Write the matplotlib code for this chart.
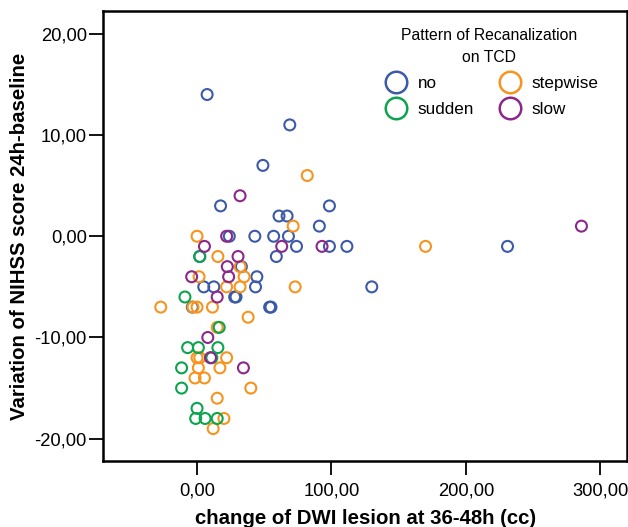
import matplotlib.pyplot as plt
from matplotlib.lines import Line2D

plt.rcParams['font.family'] = ['Liberation Sans', 'DejaVu Sans']

# change of DWI lesion (cc) vs. NIHSS change, split by recanalization pattern
no_x = [7.5, 69, 49, 17.5, 98.5, 61, 67, 91, 24, 43, 57, 68, 74, 98.5, 111.5,
        231, 59, 2, 33, 44.5, 5, 12.5, 43.5, 130, 28, 29, 54, 55, -3.5]
no_y = [14, 11, 7, 3, 3, 2, 2, 1, 0, 0, 0, 0, -1, -1, -1,
        -1, -2, -2, -3, -4, -5, -5, -5, -5, -6, -6, -7, -7, -7]

stepwise_x = [82, 71.5, 170, 0, 15.5, 1.5, 32, 35, 22, 32, 73, -27, -3, 0,
              11.5, 38, 15, 0, 2, 22, 1, 17, -1.5, 5.5, 40, 15, 20, 12]
stepwise_y = [6, 1, -1, 0, -2, -4, -3, -4, -5, -5, -5, -7, -7, -7,
              -7, -8, -9, -12, -12, -12, -13, -13, -14, -14, -15, -16, -18, -19]

sudden_x = [2, -9, 16.5, -7, 1, 15.5, 11, -11.5, -11.5, 0, -1, 6, 15]
sudden_y = [-2, -6, -9, -11, -11, -11, -12, -13, -15, -17, -18, -18, -18]

slow_x = [32, 286, 22, 5.5, 63, 93, 30.5, 22.5, -4, 23.5, 15, 8, 10, 34.5]
slow_y = [4, 1, 0, -1, -1, -1, -2, -3, -4, -4, -6, -10, -12, -13]

x_ticks = [0, 100, 200, 300]
x_ticklabels = ['0,00', '100,00', '200,00', '300,00']
y_ticks = [-20, -10, 0, 10, 20]
y_ticklabels = ['-20,00', '-10,00', '0,00', '10,00', '20,00']

c_no = '#3d5aa8'
c_stepwise = '#f7941e'
c_sudden = '#0ca44e'
c_slow = '#8c288a'

fig = plt.figure(figsize=(6.28, 5.27), dpi=100)
ax = fig.add_axes([0.1648, 0.1243, 0.8332, 0.8548])

groups = [
  (no_x, no_y, c_no),
  (stepwise_x, stepwise_y, c_stepwise),
  (sudden_x, sudden_y, c_sudden),
  (slow_x, slow_y, c_slow),
]
for xs, ys, col in groups:
  ax.scatter(xs, ys, s=62, facecolors='none', edgecolors=col, linewidths=1.5)

ax.set_xlim(-69.6, 319.7)
ax.set_ylim(-22.25, 22.25)
ax.set_xticks(x_ticks)
ax.set_xticklabels(x_ticklabels)
ax.set_yticks(y_ticks)
ax.set_yticklabels(y_ticklabels)
ax.tick_params(axis='both', length=10, width=1.3, labelsize=13.2)
ax.tick_params(axis='x', pad=5)
ax.tick_params(axis='y', pad=2)

for sp in ax.spines.values():
  sp.set_linewidth(1.8)

ax.set_xlabel('change of DWI lesion at 36-48h (cc)', fontsize=14.7, fontweight='bold', labelpad=7)
ax.set_ylabel('Variation of NIHSS score 24h-baseline', fontsize=14.7, fontweight='bold', labelpad=4)

# legend filled column-first, so order gives rows no/stepwise and sudden/slow
handles = [
  Line2D([], [], ls='none', marker='o', ms=15.5, mfc='none', mec=c_no, mew=1.8, label='no'),
  Line2D([], [], ls='none', marker='o', ms=15.5, mfc='none', mec=c_sudden, mew=1.8, label='sudden'),
  Line2D([], [], ls='none', marker='o', ms=15.5, mfc='none', mec=c_stepwise, mew=1.8, label='stepwise'),
  Line2D([], [], ls='none', marker='o', ms=15.5, mfc='none', mec=c_slow, mew=1.8, label='slow'),
]
leg = ax.legend(handles=handles, ncol=2, frameon=False, fontsize=12.3,
                title='Pattern of Recanalization\non TCD', title_fontsize=11.3,
                loc='upper right', bbox_to_anchor=(0.975, 0.997),
                handletextpad=0.25, columnspacing=1.1, labelspacing=0.65,
                borderpad=0.4)
leg.get_title().set_multialignment('center')
leg.get_title().set_linespacing(1.6)

fig.savefig('out.png', dpi=100)
